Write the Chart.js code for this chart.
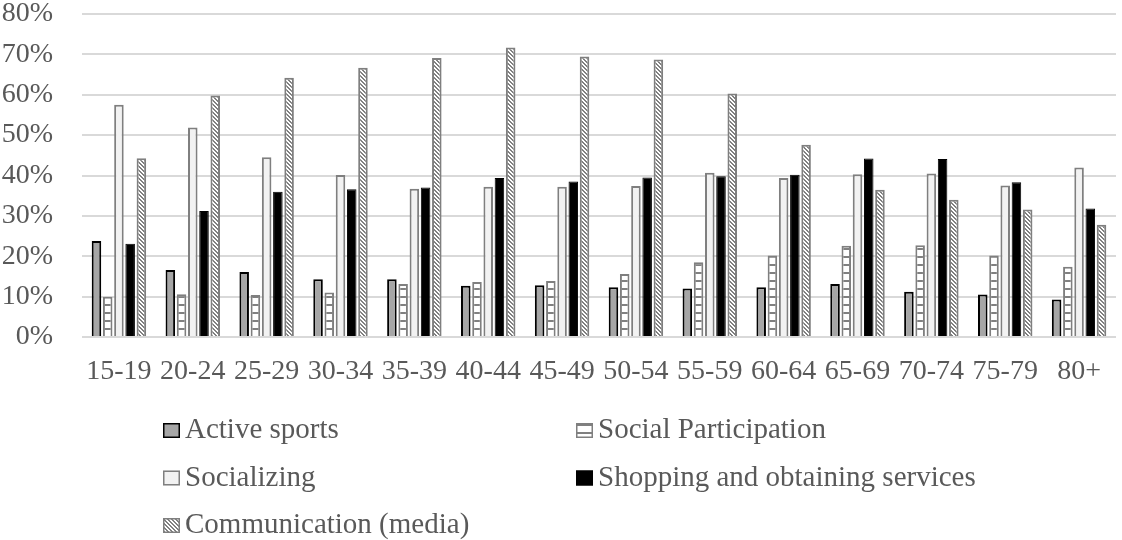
<!DOCTYPE html>
<html>
<head>
<meta charset="utf-8">
<title>Time use by age group</title>
<script src="https://cdn.jsdelivr.net/npm/chart.js@4.4.1/dist/chart.umd.min.js"></script>
<style>
  html, body { margin: 0; padding: 0; background: #ffffff; }
  #wrap { width: 1122px; height: 540px; }
</style>
</head>
<body>
<div id="wrap"><canvas id="chart" width="1122" height="540"></canvas></div>
<script>
// Age groups along the horizontal axis
const ageGroups = ['15-19', '20-24', '25-29', '30-34', '35-39', '40-44', '45-49',
                   '50-54', '55-59', '60-64', '65-69', '70-74', '75-79', '80+'];

// Share of each age group taking part in the activity (%)
const activeSports        = [23.8, 16.6, 16.1, 14.3, 14.3, 12.7, 12.8, 12.3, 12.0, 12.3, 13.1, 11.2, 10.5, 9.3];
const socialParticipation = [10.0, 10.6, 10.4, 11.0, 13.1, 13.6, 13.9, 15.6, 18.5, 20.2, 22.6, 22.7, 20.2, 17.4];
const socializing         = [57.5, 51.9, 44.5, 40.1, 36.7, 37.2, 37.2, 37.4, 40.7, 39.4, 40.3, 40.5, 37.5, 42.0];
const shopping            = [23.1, 31.2, 36.0, 36.6, 37.0, 39.4, 38.5, 39.5, 39.8, 40.2, 44.2, 44.1, 38.3, 31.8];
const communication       = [44.3, 59.8, 64.2, 66.7, 69.1, 71.7, 69.5, 68.7, 60.3, 47.6, 36.5, 34.0, 31.6, 27.8];

// Y axis ticks (%)
const yTicks = [0, 10, 20, 30, 40, 50, 60, 70, 80];

const FONT = '"Liberation Serif", "Times New Roman", serif';
const TEXT = '#595959';
const LINE_GREY = '#7f7f7f';

// Small pixel tiles used as fill patterns
function makeTile(w, h, painter) {
  const c = document.createElement('canvas');
  c.width = w; c.height = h;
  const g = c.getContext('2d');
  const img = g.createImageData(w, h);
  for (let y = 0; y < h; y++) {
    for (let x = 0; x < w; x++) {
      const v = painter(x, y);
      const i = (y * w + x) * 4;
      img.data[i] = v; img.data[i + 1] = v; img.data[i + 2] = v; img.data[i + 3] = 255;
    }
  }
  g.putImageData(img, 0, 0);
  return c;
}
const ctx = document.getElementById('chart').getContext('2d');
// horizontal stripes: white with grey rules
const hStripe = ctx.createPattern(makeTile(8, 8, (x, y) => (y < 2 ? 0x80 : 0xff)), 'repeat');
// downward diagonal stripes
const dStripe = ctx.createPattern(makeTile(4, 4, (x, y) => (((x - y) % 4 + 4) % 4 < 2 ? 0x80 : 0xff)), 'repeat');

const datasets = [
  { label: 'Active sports', data: activeSports, backgroundColor: '#a6a6a6', borderColor: '#000000', borderWidth: 2 },
  { label: 'Social Participation', data: socialParticipation, backgroundColor: hStripe, borderColor: LINE_GREY, borderWidth: 2 },
  { label: 'Socializing', data: socializing, backgroundColor: '#f2f2f2', borderColor: LINE_GREY, borderWidth: 2 },
  { label: 'Shopping and obtaining services', data: shopping, backgroundColor: '#000000', borderColor: '#000000', borderWidth: 1 },
  { label: 'Communication (media)', data: communication, backgroundColor: dStripe, borderColor: LINE_GREY, borderWidth: 2 }
];

// Two-column legend drawn under the axis
const gridLegend = {
  id: 'gridLegend',
  afterDraw(chart, args, opts) {
    const g = chart.ctx;
    g.save();
    g.font = opts.fontSize + 'px ' + FONT;
    g.textBaseline = 'alphabetic';
    g.textAlign = 'left';
    chart.data.datasets.forEach((ds, i) => {
      const col = i % 2, row = Math.floor(i / 2);
      const bx = opts.cols[col];
      const base = opts.firstBaseline + row * opts.rowGap;
      const by = base - opts.box;
      g.fillStyle = ds.backgroundColor;
      g.fillRect(bx, by, opts.boxW, opts.box);
      g.lineWidth = 1.5;
      g.strokeStyle = ds.borderColor;
      g.strokeRect(bx + 0.75, by + 0.75, opts.boxW - 1.5, opts.box - 1.5);
      g.fillStyle = TEXT;
      g.fillText(ds.label, bx + opts.boxW + opts.gap, base);
    });
    g.restore();
  }
};

new Chart(ctx, {
  type: 'bar',
  data: { labels: ageGroups, datasets },
  plugins: [gridLegend],
  options: {
    responsive: false,
    animation: false,
    events: [],
    layout: { padding: { top: 14, right: 6, left: 0, bottom: 0 } },
    datasets: { bar: { categoryPercentage: 0.76, barPercentage: 0.85, borderSkipped: 'start' } },
    plugins: {
      legend: { display: false },
      tooltip: { enabled: false },
      gridLegend: { cols: [163, 576], firstBaseline: 438, rowGap: 47.5, box: 15, boxW: 17, gap: 5, fontSize: 29 }
    },
    scales: {
      x: {
        grid: { display: false, drawTicks: false },
        border: { display: false },
        ticks: { color: TEXT, font: { family: FONT, size: 28 }, padding: 18, maxRotation: 0, autoSkip: false },
        afterFit(s) { s.height = 203; }
      },
      y: {
        min: 0,
        max: 80,
        afterBuildTicks(s) { s.ticks = yTicks.map(v => ({ value: v })); },
        grid: { color: '#d9d9d9', lineWidth: 2, drawTicks: false },
        border: { display: false },
        ticks: {
          color: TEXT,
          font: { family: FONT, size: 28, lineHeight: 1.0 },
          padding: 29,
          callback: v => v + '%'
        },
        afterFit(s) {
          s.width = 82;
          s.paddingTop = 14;
          s.paddingBottom = 0;
        }
      }
    }
  }
});
</script>
</body>
</html>
